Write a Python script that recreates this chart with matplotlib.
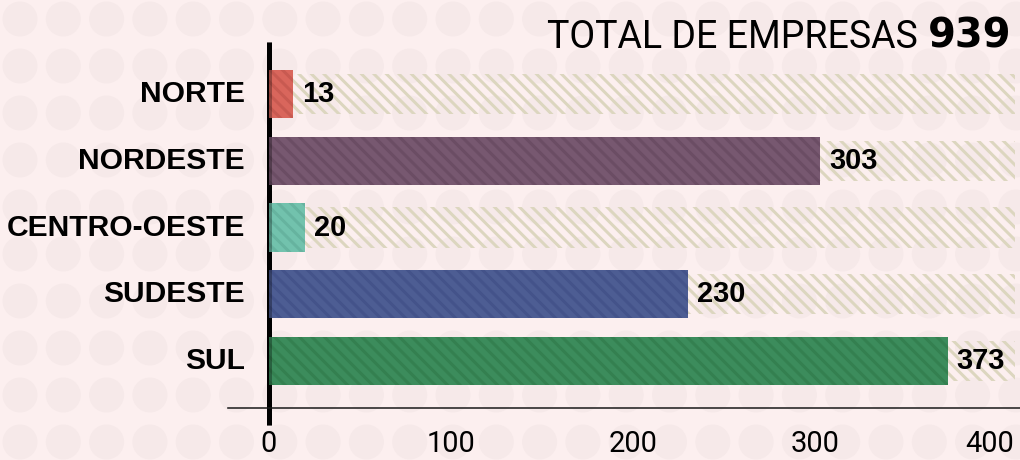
import matplotlib
matplotlib.use("Agg")
import matplotlib.pyplot as plt
from matplotlib.patches import Circle
from matplotlib.transforms import ScaledTranslation
import numpy as np

# ---- data ----
regions = ["NORTE", "NORDESTE", "CENTRO-OESTE", "SUDESTE", "SUL"]
empresas = [13, 303, 20, 230, 373]
bar_colors = ["#d9665c", "#775870", "#72c2ad", "#4d5d93", "#3c8c5c"]
hatch_colors = ["#c85a51", "#6b4d64", "#66b39f", "#44538a", "#348050"]
total_empresas = 939
x_ticks = [0, 100, 200, 300, 400]
title_text = "TOTAL DE EMPRESAS"

# ---- layout helpers ----
DPI = 150
W, H = 1020, 460
def pt(px):
    return px * 72.0 / DPI

BG = "#fcefef"
DOT = "#f6e9e9"
HATCH_BG = "#dcd6bf"

plt.rcParams["hatch.linewidth"] = pt(3)

fig = plt.figure(figsize=(W / DPI, H / DPI), dpi=DPI, facecolor=BG)

# background dot pattern
bg = fig.add_axes([0, 0, 1, 1], zorder=0)
bg.set_xlim(0, W)
bg.set_ylim(H, 0)
bg.axis("off")
bg.set_facecolor(BG)
for cy in np.arange(19, H + 30, 47):
    for cx in np.arange(20, W + 30, 43.3):
        bg.add_patch(Circle((cx, cy), 17.5, color=DOT, lw=0))

# main axes
ax_left, ax_right, ax_top, ax_bottom = 228, W, 42, 408
ax = fig.add_axes([ax_left / W, (H - ax_bottom) / H,
                   (ax_right - ax_left) / W, (ax_bottom - ax_top) / H], zorder=1)
ax.set_facecolor("none")

x0_px, scale = 269, 1.82
row0_px, row_step = 94, 66.75
ax.set_xlim(-(x0_px - ax_left) / scale, (ax_right - x0_px) / scale)
ax.set_ylim(len(regions) - 1 + (ax_bottom - (row0_px + 4 * row_step)) / row_step,
            -(row0_px - ax_top) / row_step)

y = np.arange(len(regions))
full = 410

# hatched background track
ax.barh(y, [full - v for v in empresas], left=empresas, height=0.6,
        facecolor="none", edgecolor=HATCH_BG, hatch="\\\\\\\\", lw=0, zorder=1)

# vertical black axis line
ybot = ax.get_ylim()[0] + (425 - ax_bottom) / row_step
ax.plot([0, 0], [ax.get_ylim()[1], ybot], color="black", lw=pt(5),
        solid_capstyle="butt", clip_on=False, zorder=2)

# colored bars
ax.barh(y, empresas, height=0.72, color=bar_colors, edgecolor=hatch_colors,
        hatch="\\\\\\\\", lw=0, zorder=3)

# darkening of the axis line through the bars
ax.plot([0, 0], [ax.get_ylim()[1], ybot], color="black", lw=pt(5), alpha=0.3,
        solid_capstyle="butt", clip_on=False, zorder=4)

# value labels
for yi, v in zip(y, empresas):
    ax.annotate(str(v), (v, yi), xytext=(pt(9), 0), textcoords="offset points",
                ha="left", va="center", fontsize=pt(29), fontweight="bold",
                family="Liberation Sans", color="black", zorder=5)

# category labels
for yi, name in zip(y, regions):
    ax.annotate(name, (0, yi), xytext=(-pt(24), 0), textcoords="offset points",
                ha="right", va="center", fontsize=pt(30), fontweight="bold",
                family="Liberation Sans", color="black", annotation_clip=False)

# axes styling
for s in ["left", "top", "right"]:
    ax.spines[s].set_visible(False)
ax.spines["bottom"].set_linewidth(pt(1.6))
ax.spines["bottom"].set_color("#222222")
ax.set_yticks([])
ax.set_xticks(x_ticks)
ax.set_xticklabels([str(t) for t in x_ticks])
ax.tick_params(axis="x", length=0, pad=pt(22), labelsize=pt(29))
labels = ax.get_xticklabels()
for lab in labels:
    lab.set_family("Roboto")
    lab.set_fontweight("normal")
labels[-1].set_transform(labels[-1].get_transform() +
                         ScaledTranslation(-7 / DPI, 0, fig.dpi_scale_trans))

# title
fig.text(1011 / W, (H - 48) / H, str(total_empresas), ha="right", va="baseline",
         fontsize=pt(40), fontweight="bold", family="DejaVu Sans", color="black")
fig.text(918 / W, (H - 48) / H, title_text, ha="right", va="baseline",
         fontsize=pt(37.5), fontweight="normal", family="Roboto", color="black")

fig.savefig("out.png", dpi=DPI, facecolor=BG)
